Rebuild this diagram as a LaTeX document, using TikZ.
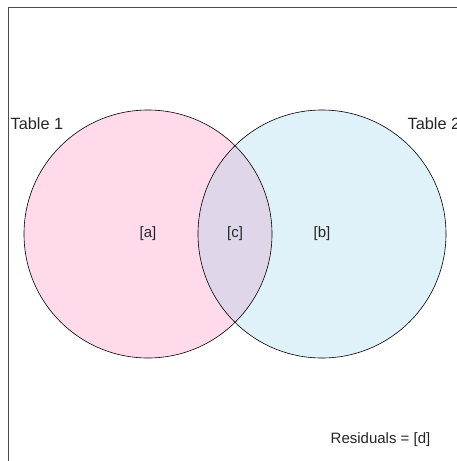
\documentclass[tikz,border=0pt]{standalone}
\usepackage{fontspec}
\setmainfont{Liberation Sans}
\begin{document}
\begin{tikzpicture}[x=1pt,y=-1pt,
  setcircle/.style={circle,minimum size=248pt,inner sep=0pt},
  lbl/.style={font=\fontsize{15}{18}\selectfont,text=black!85,inner sep=0pt},
  tlbl/.style={font=\fontsize{16.3}{19}\selectfont,text=black!85,inner sep=0pt}]
\definecolor{pinkfill}{RGB}{254,218,234}
\definecolor{bluefill}{RGB}{223,241,249}
\definecolor{overlapfill}{RGB}{223,215,233}
\clip (0,0) rectangle (457,461);
\draw[line width=1pt,black!70] (8,470) -- (8,7) -- (470,7);
\node[setcircle,fill=pinkfill] (A) at (148,234) {};
\node[setcircle,fill=bluefill] (B) at (322,234) {};
\begin{scope}
  \clip (148,234) circle (124);
  \fill[overlapfill] (322,234) circle (124);
\end{scope}
\draw[black,line width=0.6pt] (148,234) circle (124);
\draw[black,line width=0.6pt] (322,234) circle (124);
\node[tlbl,anchor=base west] (t1) at (10.5,129.5) {Table 1};
\node[tlbl,anchor=base west] (t2) at (407.5,129.5) {Table 2};
\node[lbl] (a) at (A.center) {[a]};
\node[lbl] (c) at (235,234) {[c]};
\node[lbl] (b) at (B.center) {[b]};
\node[lbl,anchor=base west] (res) at (330.5,443) {Residuals = [d]};
\end{tikzpicture}
\end{document}
